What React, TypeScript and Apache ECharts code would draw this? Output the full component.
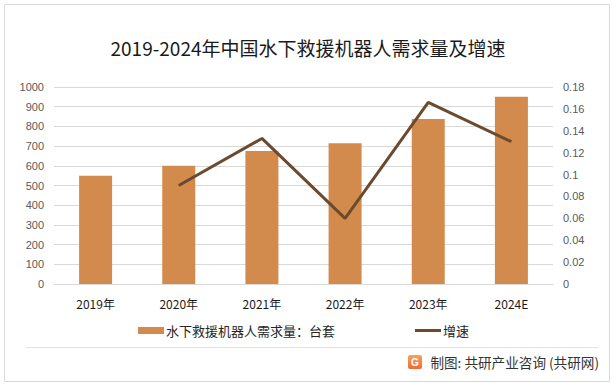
import React, { useEffect, useRef } from "react";
import * as echarts from "echarts";

const categories = ["2019年", "2020年", "2021年", "2022年", "2023年", "2024E"];
const demand = [550, 600, 675, 715, 838, 950];
const growth: (number | null)[] = [null, 0.09, 0.133, 0.06, 0.166, 0.13];
const titleText = "2019-2024年中国水下救援机器人需求量及增速";
const barName = "水下救援机器人需求量：台套";
const lineName = "增速";
const sourceText = "制图: 共研产业咨询 (共研网)";

export default function App() {
  const ref = useRef<HTMLDivElement>(null);
  useEffect(() => {
    document.body.style.margin = "0";
    const chart = echarts.init(ref.current!, null, { renderer: "svg" });
    chart.setOption({
      animation: false,
      backgroundColor: "#ffffff",
      title: {
        text: titleText,
        left: "center",
        top: 33,
        textStyle: {
          fontFamily: "Noto Sans CJK SC",
          fontSize: 19,
          fontWeight: "normal",
          color: "#1a1a1a",
        },
      },
      legend: {
        left: 133,
        top: 319,
        itemGap: 80,
        itemWidth: 26,
        itemHeight: 7,
        textStyle: { fontFamily: "Noto Sans CJK SC", fontSize: 13, color: "#262626", padding: [0, 0, 0, -3] },
        data: [
          { name: barName, icon: "rect" },
          { name: lineName, icon: "path://M0,0h26v3h-26z" },
        ],
      },
      grid: { left: 54, right: 63, top: 87, bottom: 104, containLabel: false },
      xAxis: {
        type: "category",
        data: categories,
        axisLine: { lineStyle: { color: "#d9d9d9" } },
        axisTick: { show: false },
        axisLabel: { color: "#1a1a1a", fontSize: 12, fontFamily: "Noto Sans CJK SC", margin: 13 },
      },
      yAxis: [
        {
          type: "value",
          min: 0,
          max: 1000,
          interval: 100,
          axisLine: { show: false },
          axisTick: { show: false },
          splitLine: { lineStyle: { color: "#d9d9d9" } },
          axisLabel: {
            color: "#595959",
            fontSize: 11,
            fontFamily: "Liberation Sans",
            margin: 10,
            formatter: (v: number) => String(v),
          },
        },
        {
          type: "value",
          min: 0,
          max: 0.18,
          interval: 0.02,
          axisLine: { show: false },
          axisTick: { show: false },
          splitLine: { show: false },
          axisLabel: {
            color: "#595959",
            fontSize: 11,
            fontFamily: "Liberation Sans",
            margin: 10,
            formatter: (v: number) => String(parseFloat(v.toFixed(2))),
          },
        },
      ],
      series: [
        {
          name: barName,
          type: "bar",
          data: demand,
          barWidth: 33,
          itemStyle: { color: "#D38B4D" },
        },
        {
          name: lineName,
          type: "line",
          yAxisIndex: 1,
          data: growth,
          symbol: "none",
          lineStyle: { color: "#6B4A2E", width: 3 },
          itemStyle: { color: "#6B4A2E" },
        },
      ],
      graphic: [
        {
          type: "rect",
          shape: { x: 4.5, y: 4.5, width: 605, height: 377 },
          style: { fill: "none", stroke: "#d9d9d9", lineWidth: 1 },
          silent: true,
        },
        {
          type: "line",
          shape: { x1: 26, y1: 347.5, x2: 598, y2: 347.5 },
          style: { stroke: "#e3e3e3", lineWidth: 1 },
          silent: true,
        },
        {
          type: "rect",
          shape: { x: 408, y: 355, width: 14, height: 14, r: 2 },
          style: {
            fill: new echarts.graphic.LinearGradient(0, 0, 0, 1, [
              { offset: 0, color: "#F7A35C" },
              { offset: 1, color: "#F06A3A" },
            ]),
          },
          silent: true,
        },
        {
          type: "text",
          x: 415,
          y: 362,
          style: {
            text: "G",
            fill: "#ffffff",
            fontSize: 10,
            fontWeight: "bold",
            fontFamily: "Liberation Sans",
            align: "center",
            verticalAlign: "middle",
          },
          silent: true,
        },
        {
          type: "text",
          x: 599,
          y: 362,
          style: {
            text: sourceText,
            fill: "#333333",
            fontSize: 13.6,
            fontFamily: "Noto Sans CJK SC",
            align: "right",
            verticalAlign: "middle",
          },
          silent: true,
        },
      ],
    });
    return () => chart.dispose();
  }, []);
  return <div ref={ref} style={{ width: 616, height: 388 }} />;
}
